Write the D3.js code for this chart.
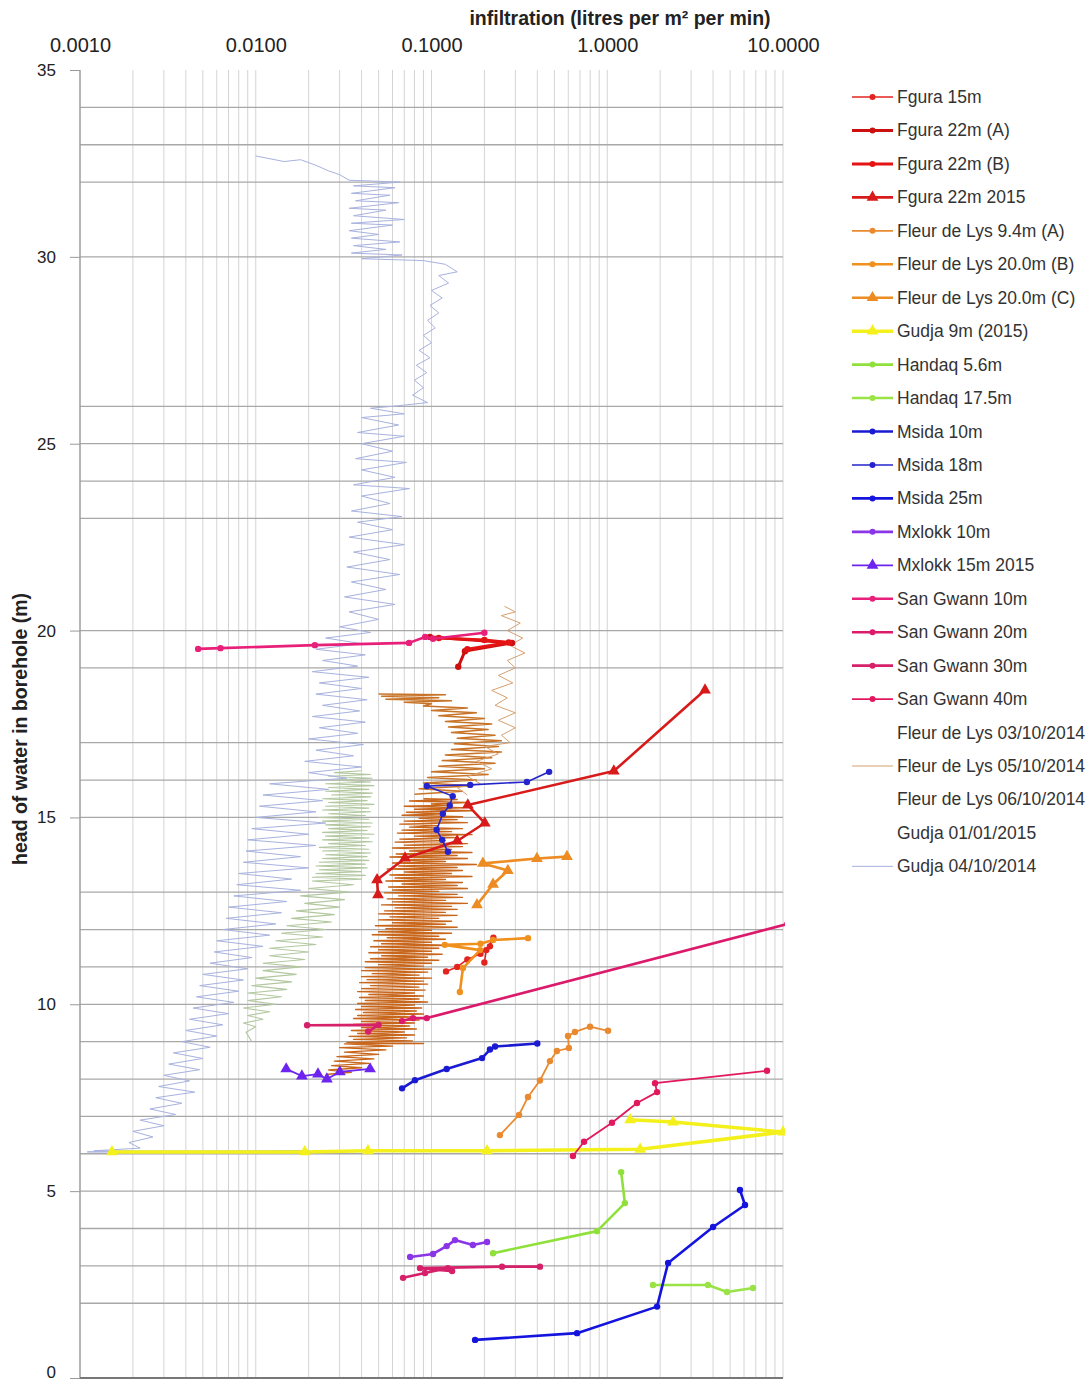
<!DOCTYPE html>
<html><head><meta charset="utf-8">
<script src="https://cdn.jsdelivr.net/npm/d3@7/dist/d3.min.js"></script>
<style>body{margin:0;background:#fff;} svg{display:block;font-family:"Liberation Sans",Arial,sans-serif;}</style>
</head><body><svg id="c" width="1092" height="1383"></svg>
<script>
// ---------- data (infiltration l/m2/min, head m) ----------
const xTicks=[0.001,0.01,0.1,1,10];
const yTicks=[0,5,10,15,20,25,30,35];
const hGrid=[2,3,4,5,6,7,8,9,10,11,12,13,15,16,17,19,20,23,24,25,26,30,32,33,34];
const seriesNames=["Fgura 15m","Fgura 22m (A)","Fgura 22m (B)","Fgura 22m 2015","Fleur de Lys 9.4m (A)","Fleur de Lys 20.0m (B)","Fleur de Lys 20.0m (C)","Gudja 9m (2015)","Handaq 5.6m","Handaq 17.5m","Msida 10m","Msida 18m","Msida 25m","Mxlokk 10m","Mxlokk 15m 2015","San Gwann 10m","San Gwann 20m","San Gwann 30m","San Gwann 40m","Fleur de Lys 03/10/2014","Fleur de Lys 05/10/2014","Fleur de Lys 06/10/2014","Gudja 01/01/2015","Gudja 04/10/2014"];

const fgura15=[[0.121,10.88],[0.14,11.0],[0.16,11.2],[0.19,11.35],[0.215,11.55],[0.225,11.78],[0.205,11.45],[0.2,11.12]];
const fgura22A=[[0.098,19.83],[0.287,19.67],[0.155,19.45],[0.142,19.03]];
const fgura22B=[[0.11,19.8],[0.2,19.75],[0.275,19.68],[0.16,19.5]];
const fgura2015=[[3.6,18.41],[1.09,16.24],[0.161,15.33],[0.201,14.85],[0.14,14.37],[0.0707,13.91],[0.049,13.33],[0.0496,12.93]];
const fleur94A=[[0.245,6.5],[0.315,7.04],[0.354,7.52],[0.414,7.96],[0.472,8.48],[0.517,8.75],[0.605,8.83],[0.598,9.15],[0.655,9.26],[0.798,9.4],[1.01,9.29]];
const fleur20B=[[0.145,10.33],[0.151,10.97],[0.189,11.45],[0.119,11.59],[0.19,11.62],[0.224,11.72],[0.354,11.77]];
const fleur20C=[[0.1815,12.66],[0.224,13.21],[0.272,13.58],[0.196,13.77],[0.398,13.9],[0.59,13.95]];
const gudja9=[[0.00152,6.05],[0.019,6.05],[0.0435,6.08],[0.207,6.08],[1.54,6.12],[10.0,6.58],[2.37,6.85],[1.35,6.91]];
const handaq56=[[0.224,3.34],[0.875,3.93],[1.26,4.68],[1.2,5.51]];
const handaq175=[[1.82,2.49],[3.74,2.49],[4.8,2.3],[6.75,2.41]];
const msida10=[[0.068,7.75],[0.0805,7.97],[0.122,8.27],[0.194,8.56],[0.215,8.79],[0.23,8.87],[0.4,8.95]];
const msida18=[[0.467,16.22],[0.349,15.95],[0.166,15.87],[0.094,15.84],[0.132,15.57],[0.127,15.32],[0.116,15.1],[0.107,14.67],[0.115,14.4],[0.124,14.08]];
const msida25=[[0.177,1.02],[0.673,1.2],[1.92,1.91],[2.22,3.08],[4.0,4.04],[6.08,4.63],[5.69,5.03]];
const mxlokk10=[[0.0756,3.24],[0.102,3.32],[0.122,3.53],[0.136,3.69],[0.172,3.56],[0.207,3.64]];
const mxlokk15=[[0.0149,8.27],[0.0183,8.08],[0.0226,8.13],[0.0254,8.0],[0.0301,8.19],[0.0447,8.27]];
const sanGwann10=[[0.0047,19.51],[0.0063,19.53],[0.0217,19.61],[0.0745,19.67],[0.092,19.83],[0.102,19.78],[0.2,19.94]];
const sanGwann20=[[0.068,9.55],[0.0785,9.63],[0.094,9.63],[10.6,12.15]];
const sanGwann30=[[0.0196,9.44],[0.05,9.45],[0.0436,9.27],null,[0.0689,2.68],[0.0918,2.81],[0.124,2.94],[0.131,2.86],[0.0861,2.94],[0.252,2.98],[0.414,2.98]];
const sanGwann40=[[0.638,5.94],[0.738,6.32],[1.064,6.83],[1.477,7.36],[1.92,7.65],[1.87,7.89],[8.11,8.22]];

const fleur0310=[[0.05,18.3],[0.12,18.28],[0.052,18.24],[0.11,18.2],[0.055,18.16],[0.13,18.12],[0.07,18.08],[0.1,18.04],[0.09,17.98],[0.16,17.93],[0.1,17.86],[0.18,17.8],[0.11,17.72],[0.2,17.65],[0.12,17.57],[0.22,17.5],[0.125,17.42],[0.21,17.35],[0.13,17.27],[0.23,17.2],[0.14,17.12],[0.25,17.05],[0.135,16.97],[0.24,16.9],[0.13,16.82],[0.25,16.75],[0.12,16.67],[0.22,16.6],[0.115,16.52],[0.23,16.45],[0.11,16.37],[0.2,16.3],[0.1,16.22],[0.21,16.15],[0.095,16.07],[0.18,16.0],[0.09,15.92],[0.17,15.85],[0.085,15.77],[0.15,15.7],[0.08,15.62]];
const fleur0510=[[0.26,20.65],[0.3,20.5],[0.25,20.4],[0.32,20.2],[0.27,20.0],[0.33,19.8],[0.28,19.6],[0.34,19.4],[0.27,19.2],[0.3,19.0],[0.24,18.8],[0.29,18.6],[0.22,18.4],[0.27,18.2],[0.23,18.0],[0.3,17.8],[0.24,17.6],[0.3,17.4],[0.25,17.2],[0.28,17.0],[0.2,16.9],[0.24,16.7],[0.18,16.5],[0.22,16.3],[0.16,16.1],[0.19,15.9],[0.14,15.8],[0.16,15.6]];
const fleur0610=[[0.09,15.5],[0.14,15.48],[0.075,15.44],[0.16,15.4],[0.1,15.36],[0.13,15.33],[0.07,15.3],[0.15,15.26],[0.08,15.22],[0.17,15.18],[0.072,15.14],[0.12,15.1],[0.068,15.06],[0.15,15.02],[0.085,14.98],[0.14,14.94],[0.07,14.9],[0.16,14.86],[0.066,14.82],[0.11,14.78],[0.075,14.74],[0.15,14.7],[0.068,14.66],[0.13,14.62],[0.064,14.58],[0.17,14.54],[0.08,14.5],[0.14,14.46],[0.066,14.42],[0.12,14.38],[0.062,14.34],[0.16,14.3],[0.07,14.26],[0.15,14.22],[0.06,14.18],[0.13,14.14],[0.075,14.1],[0.17,14.06],[0.063,14.02],
[0.14,13.98],[0.058,13.94],[0.16,13.9],[0.07,13.86],[0.12,13.82],[0.06,13.78],[0.18,13.74],[0.065,13.7],[0.14,13.66],[0.056,13.62],[0.15,13.58],[0.07,13.54],[0.13,13.5],[0.058,13.46],[0.17,13.42],[0.062,13.38],[0.12,13.34],[0.055,13.3],[0.15,13.26],[0.068,13.22],[0.14,13.18],[0.057,13.14],[0.16,13.1],[0.06,13.06],[0.11,13.02],[0.054,12.98],[0.14,12.94],[0.065,12.9],[0.15,12.86],[0.056,12.82],[0.12,12.78],[0.06,12.74],[0.16,12.7],[0.052,12.66],[0.13,12.62],[0.062,12.58],[0.14,12.54],[0.054,12.5],
[0.12,12.46],[0.05,12.42],[0.14,12.38],[0.058,12.34],[0.11,12.3],[0.05,12.26],[0.13,12.22],[0.06,12.18],[0.12,12.14],[0.048,12.1],[0.14,12.06],[0.055,12.02],[0.1,11.98],[0.05,11.94],[0.13,11.9],[0.046,11.86],[0.11,11.82],[0.056,11.78],[0.12,11.74],[0.047,11.7],[0.1,11.66],[0.052,11.62],[0.125,11.58],[0.045,11.54],[0.11,11.5],[0.05,11.46],[0.1,11.42],[0.044,11.38],[0.115,11.34],[0.052,11.3],[0.095,11.26],[0.045,11.22],[0.11,11.18],[0.042,11.14],[0.1,11.1],[0.05,11.06],[0.09,11.02],
[0.042,10.98],[0.1,10.94],[0.04,10.9],[0.095,10.86],[0.046,10.82],[0.085,10.78],[0.04,10.74],[0.1,10.7],[0.043,10.66],[0.09,10.62],[0.039,10.58],[0.095,10.54],[0.045,10.5],[0.085,10.46],[0.04,10.42],[0.092,10.38],[0.038,10.34],[0.08,10.3],[0.044,10.26],[0.09,10.22],[0.039,10.18],[0.085,10.14],[0.042,10.1],[0.095,10.06],[0.038,10.02],[0.08,9.98],[0.04,9.94],[0.088,9.9],[0.037,9.86],[0.082,9.82],[0.041,9.78],[0.09,9.74],[0.038,9.7],[0.078,9.66],[0.036,9.62],[0.085,9.58],[0.04,9.54],[0.08,9.5],
[0.036,9.46],[0.075,9.42],[0.04,9.38],[0.082,9.34],[0.035,9.3],[0.07,9.26],[0.038,9.22],[0.08,9.18],[0.034,9.14],[0.072,9.1],[0.036,9.06],[0.078,9.02],[0.033,8.98],[0.09,8.95],[0.032,8.94],[0.06,8.88],[0.03,8.84],[0.055,8.78],[0.032,8.72],[0.05,8.66],[0.029,8.6],[0.047,8.54],[0.028,8.48],[0.044,8.42],[0.027,8.36],[0.04,8.3],[0.026,8.24],[0.035,8.18],[0.025,8.12]];
const gudja0101=[[0.04,16.25],[0.028,16.2],[0.045,16.15],[0.026,16.1],[0.046,16.05],[0.027,16.0],[0.045,15.95],[0.025,15.9],[0.047,15.85],[0.026,15.8],[0.044,15.75],[0.025,15.7],[0.046,15.65],[0.027,15.6],[0.045,15.55],[0.024,15.5],[0.043,15.45],[0.026,15.4],[0.047,15.35],[0.025,15.3],[0.044,15.25],[0.024,15.2],[0.045,15.15],[0.026,15.1],[0.042,15.05],[0.023,15.0],[0.044,14.95],[0.024,14.9],[0.046,14.85],[0.025,14.8],[0.045,14.75],[0.026,14.7],[0.043,14.65],[0.024,14.6],[0.047,14.55],[0.025,14.5],[0.044,14.45],[0.024,14.4],[0.046,14.35],[0.026,14.3],[0.042,14.25],[0.023,14.2],[0.044,14.15],[0.024,14.1],[0.045,14.05],[0.025,14.0],[0.043,13.95],[0.024,13.9],[0.044,13.85],[0.023,13.8],[0.042,13.75],[0.022,13.7],[0.043,13.65],[0.023,13.6],[0.04,13.55],[0.022,13.5],[0.042,13.45],[0.021,13.4],[0.04,13.35],[0.021,13.3],[0.036,13.2],[0.02,13.1],[0.034,13.0],[0.018,12.9],[0.032,12.8],[0.019,12.7],[0.03,12.6],[0.017,12.5],[0.028,12.4],[0.016,12.3],[0.027,12.2],[0.015,12.1],[0.025,12.0],[0.014,11.9],[0.024,11.8],[0.013,11.7],[0.022,11.6],[0.012,11.5],[0.02,11.4],[0.012,11.3],[0.019,11.2],[0.011,11.1],[0.018,11.0],[0.011,10.9],[0.017,10.8],[0.01,10.7],[0.016,10.6],[0.0095,10.5],[0.015,10.4],[0.009,10.3],[0.014,10.2],[0.009,10.1],[0.013,10.0],[0.0085,9.9],[0.012,9.8],[0.009,9.7],[0.011,9.6],[0.0085,9.5],[0.01,9.4],[0.0088,9.25],[0.0095,9.0]];
const gudja0410=[[0.01,32.7],[0.0145,32.55],[0.018,32.6],[0.022,32.45],[0.026,32.3],[0.03,32.2],[0.034,32.05],[0.066,32.0],[0.036,31.9],[0.062,31.85],[0.035,31.7],[0.058,31.65],[0.037,31.5],[0.065,31.45],[0.034,31.3],[0.055,31.25],[0.036,31.1],[0.07,31.0],[0.035,30.9],[0.06,30.85],[0.034,30.7],[0.05,30.6],[0.035,30.5],[0.066,30.4],[0.036,30.3],[0.055,30.2],[0.035,30.1],[0.068,30.05],[0.04,29.95],[0.09,29.9],[0.12,29.8],[0.14,29.6],[0.11,29.5],[0.125,29.3],[0.1,29.1],[0.115,28.9],[0.098,28.7],[0.11,28.5],[0.095,28.3],[0.105,28.1],[0.09,27.9],[0.1,27.7],[0.085,27.5],[0.098,27.3],[0.082,27.1],[0.094,26.9],[0.08,26.7],[0.09,26.5],[0.078,26.3],[0.095,26.1],[0.06,26.0],[0.045,25.95],[0.07,25.8],[0.04,25.7],[0.065,25.5],[0.038,25.3],[0.07,25.2],[0.04,25.0],[0.06,24.8],[0.037,24.6],[0.072,24.5],[0.04,24.3],[0.062,24.1],[0.036,23.9],[0.075,23.8],[0.04,23.6],[0.058,23.4],[0.035,23.2],[0.068,23.05],[0.038,22.9],[0.06,22.7],[0.034,22.5],[0.07,22.3],[0.036,22.1],[0.058,21.9],[0.033,21.7],[0.066,21.5],[0.035,21.3],[0.055,21.1],[0.032,20.9],[0.062,20.7],[0.034,20.5],[0.05,20.3],[0.03,20.1],[0.045,19.95],[0.025,19.8],[0.04,19.65],[0.022,19.5],[0.042,19.35],[0.024,19.2],[0.038,19.05],[0.021,18.9],[0.044,18.75],[0.023,18.6],[0.04,18.45],[0.022,18.3],[0.043,18.15],[0.024,18.0],[0.039,17.85],[0.021,17.7],[0.042,17.55],[0.023,17.4],[0.038,17.25],[0.02,17.1],[0.041,16.95],[0.022,16.8],[0.036,16.65],[0.019,16.5],[0.04,16.35],[0.02,16.2],[0.033,16.05],[0.012,15.9],[0.026,15.75],[0.011,15.6],[0.024,15.45],[0.0105,15.3],[0.022,15.15],[0.01,15.0],[0.025,14.85],[0.0095,14.7],[0.02,14.55],[0.009,14.4],[0.022,14.25],[0.0088,14.1],[0.018,13.95],[0.0085,13.8],[0.02,13.65],[0.008,13.5],[0.016,13.35],[0.0078,13.2],[0.018,13.05],[0.0075,12.9],[0.015,12.75],[0.007,12.6],[0.014,12.45],[0.0068,12.3],[0.013,12.15],[0.0065,12.0],[0.012,11.85],[0.006,11.7],[0.011,11.55],[0.0058,11.4],[0.0095,11.25],[0.0055,11.1],[0.009,10.95],[0.005,10.8],[0.0085,10.65],[0.0048,10.5],[0.008,10.35],[0.0046,10.2],[0.0075,10.05],[0.0044,9.9],[0.007,9.75],[0.0042,9.6],[0.0065,9.45],[0.004,9.3],[0.006,9.15],[0.0038,9.0],[0.0055,8.85],[0.0034,8.7],[0.005,8.55],[0.0032,8.4],[0.0048,8.25],[0.003,8.1],[0.0042,7.95],[0.0028,7.8],[0.0045,7.65],[0.0027,7.5],[0.0038,7.35],[0.0025,7.2],[0.0035,7.05],[0.0022,6.9],[0.003,6.75],[0.002,6.6],[0.0026,6.45],[0.0019,6.3],[0.0022,6.15],[0.0012,6.08],[0.01,6.06],[0.02,6.09],[0.0011,6.05],[0.018,6.05]];

// ---------- styles ----------
const style={
 "Fgura 15m":{d:fgura15,c:"#e3231f",w:1.6,m:"c"},
 "Fgura 22m (A)":{d:fgura22A,c:"#cc1010",w:3,m:"c"},
 "Fgura 22m (B)":{d:fgura22B,c:"#e41414",w:3,m:"c"},
 "Fgura 22m 2015":{d:fgura2015,c:"#d81a1a",w:2.6,m:"t"},
 "Fleur de Lys 9.4m (A)":{d:fleur94A,c:"#ea8a30",w:1.8,m:"c"},
 "Fleur de Lys 20.0m (B)":{d:fleur20B,c:"#f0901e",w:2.6,m:"c"},
 "Fleur de Lys 20.0m (C)":{d:fleur20C,c:"#ec8c22",w:2.6,m:"t"},
 "Gudja 9m (2015)":{d:gudja9,c:"#f4f01c",w:3.5,m:"t"},
 "Handaq 5.6m":{d:handaq56,c:"#8fe03a",w:2.6,m:"c"},
 "Handaq 17.5m":{d:handaq175,c:"#9ae346",w:2.6,m:"c"},
 "Msida 10m":{d:msida10,c:"#1a1ad2",w:2.6,m:"c"},
 "Msida 18m":{d:msida18,c:"#2424cc",w:1.6,m:"c"},
 "Msida 25m":{d:msida25,c:"#1414de",w:2.6,m:"c"},
 "Mxlokk 10m":{d:mxlokk10,c:"#8a35e6",w:2.6,m:"c"},
 "Mxlokk 15m 2015":{d:mxlokk15,c:"#6c24ee",w:1.8,m:"t"},
 "San Gwann 10m":{d:sanGwann10,c:"#e8207a",w:2.6,m:"c"},
 "San Gwann 20m":{d:sanGwann20,c:"#dc1a6c",w:2.6,m:"c"},
 "San Gwann 30m":{d:sanGwann30,c:"#d6206a",w:2.6,m:"c"},
 "San Gwann 40m":{d:sanGwann40,c:"#e2185e",w:1.8,m:"c"},
 "Fleur de Lys 03/10/2014":{d:fleur0310,c:"#c87428",w:1.5,m:null,leg:false},
 "Fleur de Lys 05/10/2014":{d:fleur0510,c:"#d6a070",w:1,m:null,leg:true},
 "Fleur de Lys 06/10/2014":{d:fleur0610,c:"#c8661c",w:1.4,m:null,leg:false},
 "Gudja 01/01/2015":{d:gudja0101,c:"#b3c8a0",w:1.1,m:null,leg:false},
 "Gudja 04/10/2014":{d:gudja0410,c:"#a8b2de",w:1,m:null,leg:true}
};

const svg=d3.select("#c");
const x=d3.scaleLog().domain([0.001,10]).range([80,783]);
const y=d3.scaleLinear().domain([0,35]).range([1378,70]);

// vertical grid (log minor)
const vg=[];
for(let e=-3;e<1;e++){for(let k=1;k<10;k++)vg.push(k*Math.pow(10,e));}
vg.push(10);
svg.append("g").selectAll("line").data(vg).join("line")
 .attr("x1",d=>x(d)).attr("x2",d=>x(d)).attr("y1",70).attr("y2",1378)
 .attr("stroke","#d4d4d4").attr("stroke-width",1);
// horizontal grid
svg.append("g").selectAll("line").data(hGrid).join("line")
 .attr("x1",80).attr("x2",783).attr("y1",d=>y(d)).attr("y2",d=>y(d))
 .attr("stroke","#a8a8a8").attr("stroke-width",1.3);
// axis lines
svg.append("line").attr("x1",80).attr("x2",80).attr("y1",70).attr("y2",1378).attr("stroke","#999").attr("stroke-width",1.3);
svg.append("line").attr("x1",80).attr("x2",783).attr("y1",1378).attr("y2",1378).attr("stroke","#777").attr("stroke-width",2);

// top axis
const ta=svg.append("g").attr("transform","translate(0,54)")
 .call(d3.axisTop(x).tickValues(xTicks).tickFormat(d3.format(".4f")).tickSize(0).tickPadding(2));
ta.select(".domain").remove();
ta.selectAll("text").attr("font-size","20px").attr("fill","#222").attr("font-family","Liberation Sans, Arial");
// left axis
const la=svg.append("g").attr("transform","translate(80,0)")
 .call(d3.axisLeft(y).tickValues(yTicks).tickSize(10).tickPadding(14));
la.select(".domain").remove();
la.selectAll("line").attr("stroke","#999");
la.selectAll("text").attr("font-size","17px").attr("fill","#222").attr("font-family","Liberation Sans, Arial")
 .attr("dy",d=>d===0?"-0.05em":"0.32em");

// titles
svg.append("text").attr("x",620).attr("y",25).attr("text-anchor","middle")
 .attr("font-size","19.5px").attr("font-weight","bold").attr("fill","#222").text("infiltration (litres per m² per min)");
svg.append("text").attr("transform","translate(27,729) rotate(-90)").attr("text-anchor","middle")
 .attr("font-size","19.5px").attr("font-weight","bold").attr("fill","#222").text("head of water in borehole (m)");

// plot
svg.append("clipPath").attr("id","pc").append("rect").attr("x",80).attr("y",66).attr("width",705).attr("height",1316);
const plot=svg.append("g").attr("clip-path","url(#pc)");
const line=d3.line().defined(d=>d!==null).x(d=>x(d[0])).y(d=>y(d[1]));
const tri=d3.symbol().type(d3.symbolTriangle).size(60);

const traceNames=seriesNames.filter(n=>style[n].m===null);
const ptNames=seriesNames.filter(n=>style[n].m!==null);
function drawSeries(n){
 const s=style[n];
 plot.append("path").datum(s.d).attr("d",line).attr("fill","none")
  .attr("stroke",s.c).attr("stroke-width",s.w).attr("stroke-linejoin","round");
 if(s.m){
  const pts=s.d.filter(d=>d!==null);
  if(s.m==="c"){
   plot.append("g").selectAll("circle").data(pts).join("circle")
    .attr("cx",d=>x(d[0])).attr("cy",d=>y(d[1])).attr("r",3.2).attr("fill",s.c);
  } else {
   plot.append("g").selectAll("path").data(pts).join("path")
    .attr("d",tri).attr("transform",d=>`translate(${x(d[0])},${y(d[1])})`).attr("fill",s.c);
  }
 }
}
traceNames.forEach(drawSeries);
ptNames.forEach(drawSeries);

// legend
const lg=svg.append("g");
seriesNames.forEach((n,i)=>{
 const s=style[n];
 const yy=97+i*33.45;
 if(s.m!==null || s.leg){
  lg.append("line").attr("x1",852).attr("x2",893).attr("y1",yy).attr("y2",yy)
   .attr("stroke",s.c).attr("stroke-width",s.m? s.w : 1);
 }
 if(s.m==="c") lg.append("circle").attr("cx",872.5).attr("cy",yy).attr("r",3).attr("fill",s.c);
 if(s.m==="t") lg.append("path").attr("d",tri).attr("transform",`translate(872.5,${yy})`).attr("fill",s.c);
 lg.append("text").attr("x",897).attr("y",yy+6).attr("font-size","17.5px").attr("fill","#333").text(n);
});
</script></body></html>
